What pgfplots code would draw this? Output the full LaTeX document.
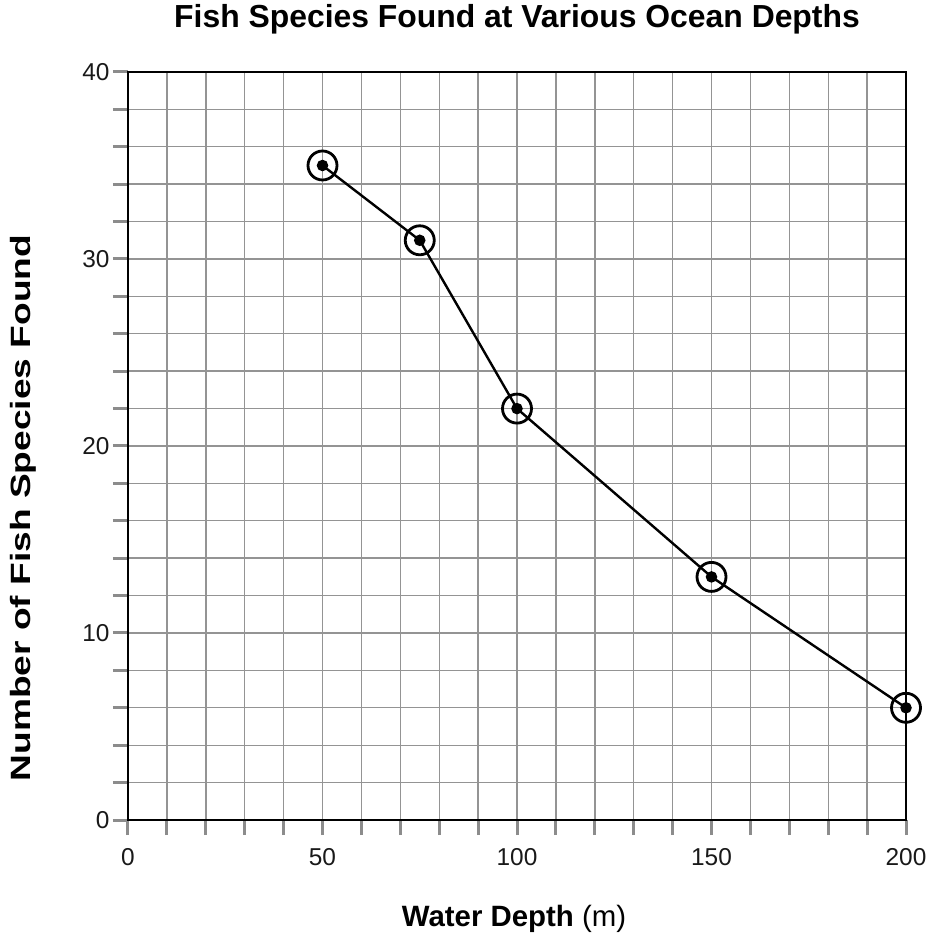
\documentclass[border=0pt]{standalone}
\usepackage{graphicx}
\usepackage{pgfplots}
\pgfplotsset{compat=1.18}
\usepackage{fontspec}
\setmainfont{Liberation Sans}
\begin{document}
\begin{tikzpicture}[x=1bp,y=1bp]
\path[use as bounding box] (-128,-114) rectangle (804,820);
\begin{axis}[
  at={(0,0)}, anchor=origin,
  width=778bp, height=748bp, scale only axis,
  xmin=0, xmax=200, ymin=0, ymax=40,
  xtick={0,50,100,150,200},
  minor xtick={10,20,30,40,60,70,80,90,110,120,130,140,160,170,180,190},
  ytick={0,10,20,30,40},
  minor ytick={2,4,6,8,12,14,16,18,22,24,26,28,32,34,36,38},
  tick pos=left,
  grid=both,
  major grid style={black!42, line width=1.4bp},
  minor grid style={black!42, line width=1.4bp},
  tick align=outside,
  major tick length=15bp, minor tick length=15bp,
  tick style={black!45, line width=3bp},
  axis line style={black, line width=2.6bp},
  ticklabel style={font=\fontsize{24.5}{28}\selectfont, text=black!90},
  /pgf/number format/assume math mode=true,
  xticklabel style={yshift=-10bp},
  yticklabel style={xshift=0bp},
  xlabel={\textbf{Water Depth} (m)},
  ylabel={\scalebox{1.33}[1]{\textbf{Number of Fish Species Found}}},
  xlabel style={font=\fontsize{29.5}{34}\selectfont, at={(axis description cs:0.5,-0.143)}, anchor=base, xshift=-3bp},
  ylabel style={font=\fontsize{28}{32}\selectfont, at={(axis description cs:-0.135,0.417)}, anchor=center},
  title={\textbf{Fish Species Found at Various Ocean Depths}},
  title style={font=\fontsize{32}{36}\selectfont, at={(axis description cs:0.5,1.0521)}, anchor=base},
]
\addplot[black, line width=2.4bp, mark=*, mark size=4.5bp] coordinates {(50,35) (75,31) (100,22) (150,13) (200,6)};
\addplot[only marks, mark=o, mark size=14.5bp, mark options={black, line width=2.8bp}] coordinates {(50,35) (75,31) (100,22) (150,13) (200,6)};
\end{axis}
\end{tikzpicture}
\end{document}
